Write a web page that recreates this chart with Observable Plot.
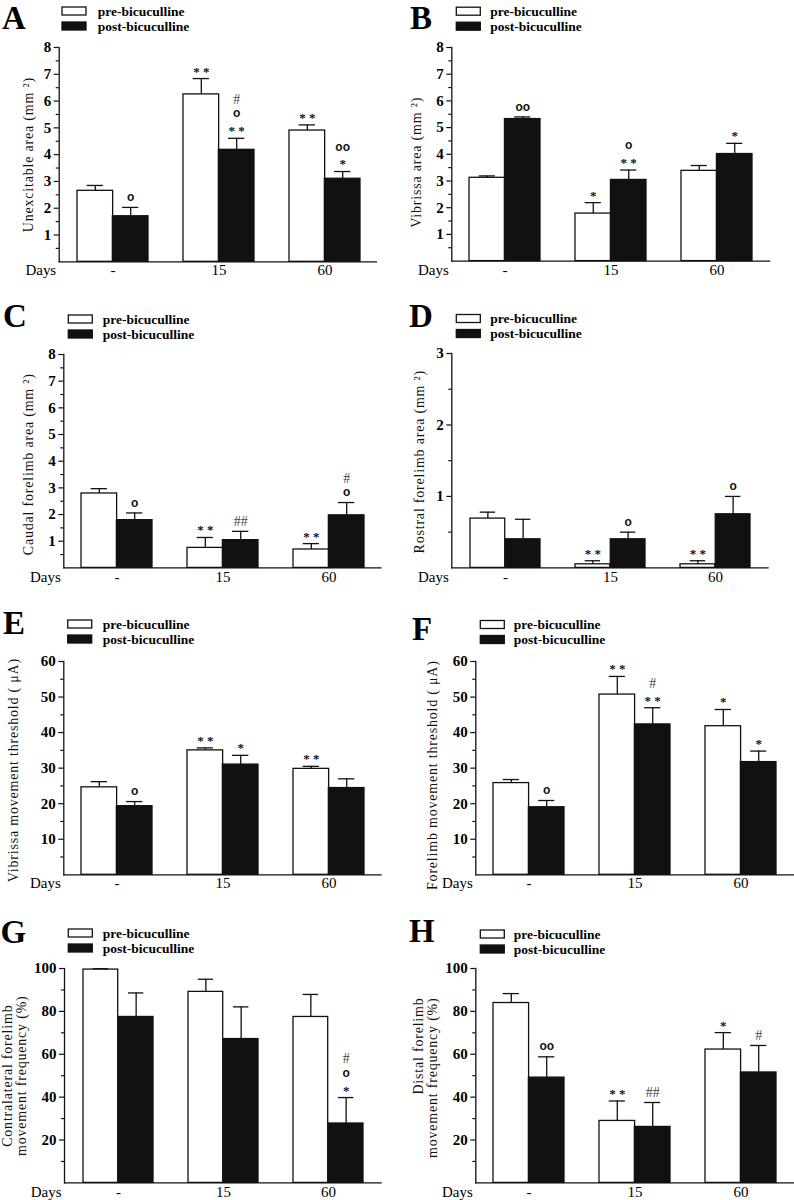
<!DOCTYPE html>
<html><head><meta charset="utf-8">
<script src="https://cdn.jsdelivr.net/npm/d3@7"></script>
<script src="https://cdn.jsdelivr.net/npm/@observablehq/plot@0.6"></script>
<style>
html,body{margin:0;padding:0;background:#fff;}
#page{position:relative;width:794px;height:1200px;overflow:hidden;background:#fff;}
</style></head><body><div id="page"></div>
<script>
// ---------- data ----------
const days = ["-", "15", "60"];
const seriesNames = ["pre-bicuculline", "post-bicuculline"];

// A: Unexcitable area
const aPre = [2.65, 6.25, 4.9];
const aPreErr = [0.2, 0.59, 0.21];
const aPost = [1.7, 4.18, 3.1];
const aPostErr = [0.33, 0.43, 0.27];
const aPreSig = ["", "**", "**"];
const aPostSig = ["o", "**|o|#", "*|oo"];

// B: Vibrissa area
const bPre = [3.12, 1.78, 3.38];
const bPreErr = [0.07, 0.41, 0.2];
const bPost = [5.32, 3.04, 4.01];
const bPostErr = [0.08, 0.37, 0.4];
const bPreSig = ["", "*", ""];
const bPostSig = ["oo", "**|o", "*"];

// C: Caudal forelimb area
const cPre = [2.79, 0.75, 0.69];
const cPreErr = [0.18, 0.39, 0.22];
const cPost = [1.79, 1.04, 1.97];
const cPostErr = [0.27, 0.33, 0.48];
const cPreSig = ["", "**", "**"];
const cPostSig = ["o", "##", "o|#"];

// D: Rostral forelimb area
const dPre = [0.69, 0.05, 0.05];
const dPreErr = [0.09, 0.05, 0.05];
const dPost = [0.40, 0.40, 0.75];
const dPostErr = [0.28, 0.10, 0.25];
const dPreSig = ["", "**", "**"];
const dPostSig = ["", "o", "o"];

// E: Vibrissa movement threshold
const ePre = [24.6, 35.0, 29.8];
const ePreErr = [1.6, 0.7, 0.7];
const ePost = [19.3, 31.0, 24.4];
const ePostErr = [1.3, 2.6, 2.6];
const ePreSig = ["", "**", "**"];
const ePostSig = ["o", "*", ""];

// F: Forelimb movement threshold
const fPre = [25.8, 50.7, 41.8];
const fPreErr = [1.0, 5.1, 4.7];
const fPost = [19.0, 42.3, 31.7];
const fPostErr = [1.9, 4.7, 3.1];
const fPreSig = ["", "**", "*"];
const fPostSig = ["o", "**|#", "*"];

// G: Contralateral forelimb movement frequency
const gPre = [99.5, 89.1, 77.4];
const gPreErr = [0.4, 5.9, 10.5];
const gPost = [77.4, 67.1, 27.7];
const gPostErr = [11.2, 15.0, 12.1];
const gPreSig = ["", "", ""];
const gPostSig = ["", "", "*|o|#"];

// H: Distal forelimb movement frequency
const hPre = [83.9, 28.9, 62.2];
const hPreErr = [4.4, 9.3, 7.9];
const hPost = [49.1, 26.1, 51.5];
const hPostErr = [9.7, 11.4, 12.6];
const hPreSig = ["", "**", "*"];
const hPostSig = ["oo", "##", "#"];

// y-axis ticks
const ticksArea = [1, 2, 3, 4, 5, 6, 7, 8];
const minorArea = [0.5, 1.5, 2.5, 3.5, 4.5, 5.5, 6.5, 7.5];
const ticksRostral = [1, 2, 3];
const minorRostral = [0.5, 1.5, 2.5];
const ticksThreshold = [10, 20, 30, 40, 50, 60];
const minorThreshold = [5, 15, 25, 35, 45, 55];
const ticksFreq = [20, 40, 60, 80, 100];
const minorFreq = [10, 30, 50, 70, 90];

// ---------- layout ----------
const panels = [
  {letter: "A", lx: 2, lb: 28.5, leg: [62, 11, 97.7],
   left: 0, axisX: 58.7, yTop: 46.7, yBase: 261, xEnd: 377, max: 8, major: ticksArea, minor: minorArea,
   label: "Unexcitable area (mm ²)", labOff: 31, labDy: 0, labAnchor: "middle",
   pre: aPre, preErr: aPreErr, post: aPost, postErr: aPostErr, preSig: aPreSig, postSig: aPostSig},
  {letter: "B", lx: 410, lb: 28.5, leg: [456.3, 11.2, 490.3],
   left: 397, axisX: 451.3, yTop: 46.7, yBase: 260.3, xEnd: 770.3, max: 8, major: ticksArea, minor: minorArea,
   label: "Vibrissa area (mm ²)", labOff: 35, labDy: 8, labAnchor: "middle",
   pre: bPre, preErr: bPreErr, post: bPost, postErr: bPostErr, preSig: bPreSig, postSig: bPostSig},
  {letter: "C", lx: 3, lb: 326.5, leg: [68.3, 319, 102.7],
   left: 0, axisX: 63.3, yTop: 354.3, yBase: 567.7, xEnd: 381.7, max: 8, major: ticksArea, minor: minorArea,
   label: "Caudal forelimb area (mm ²)", labOff: 35, labDy: 3, labAnchor: "middle",
   pre: cPre, preErr: cPreErr, post: cPost, postErr: cPostErr, preSig: cPreSig, postSig: cPostSig},
  {letter: "D", lx: 409, lb: 327, leg: [456.3, 318.5, 490.3],
   left: 397, axisX: 451.3, yTop: 353.3, yBase: 567.7, xEnd: 768.7, max: 3, major: ticksRostral, minor: minorRostral,
   label: "Rostral forelimb area (mm ²)", labOff: 32, labDy: 1, labAnchor: "middle",
   pre: dPre, preErr: dPreErr, post: dPost, postErr: dPostErr, preSig: dPreSig, postSig: dPostSig},
  {letter: "E", lx: 3, lb: 634, leg: [67.7, 624, 102.7],
   left: 0, axisX: 63.3, yTop: 661, yBase: 874.3, xEnd: 381.7, max: 60, major: ticksThreshold, minor: minorThreshold,
   label: "Vibrissa movement threshold ( μA)", labOff: 50, labDy: 2, labAnchor: "middle",
   pre: ePre, preErr: ePreErr, post: ePost, postErr: ePostErr, preSig: ePreSig, postSig: ePostSig},
  {letter: "F", lx: 412, lb: 640, leg: [480.3, 624.5, 513.7],
   left: 397, axisX: 475.3, yTop: 661, yBase: 874.3, xEnd: 794, max: 60, major: ticksThreshold, minor: minorThreshold,
   label: "Forelimb movement threshold ( μA)", labOff: 43, labDy: 7, labAnchor: "middle",
   pre: fPre, preErr: fPreErr, post: fPost, postErr: fPostErr, preSig: fPreSig, postSig: fPostSig},
  {letter: "G", lx: 0.5, lb: 943, leg: [68.3, 933, 102.7],
   left: 0, axisX: 64, yTop: 968.3, yBase: 1182.7, xEnd: 381.7, max: 100, major: ticksFreq, minor: minorFreq,
   label: "Contralateral forelimb\nmovement frequency (%)", labOff: 50, labDy: 0, labAnchor: "middle",
   pre: gPre, preErr: gPreErr, post: gPost, postErr: gPostErr, preSig: gPreSig, postSig: gPostSig},
  {letter: "H", lx: 409, lb: 942, leg: [480.3, 934, 513.7],
   left: 397, axisX: 475.3, yTop: 968.3, yBase: 1182.7, xEnd: 794, max: 100, major: ticksFreq, minor: minorFreq,
   label: "Distal forelimb\nmovement frequency (%)", labOff: 50, labDy: 29, labAnchor: "end",
   pre: hPre, preErr: hPreErr, post: hPost, postErr: hPostErr, preSig: hPreSig, postSig: hPostSig}
];

const INK = "#111";
const levelCenter = [9.5, 24, 39];
const symKinds = {
  star: {font: "Liberation Serif", size: 13, weight: "bold", corr: 2.3, fill: "#111"},
  circle: {font: "Liberation Sans", size: 12, weight: "bold", corr: -0.7, fill: "#111"},
  hash: {font: "Liberation Serif", size: 14, weight: "normal", corr: 0, fill: "#444"}
};
function kindOf(s) { return s.startsWith("*") ? "star" : s.startsWith("o") ? "circle" : "hash"; }
function glyph(s) { return s.startsWith("*") ? s.split("").join(" ") : s; }

const page = document.getElementById("page");

function drawPanel(p) {
  const mt = 12, mb = 28;
  const ml = p.axisX - p.left;
  const plotW = p.xEnd - p.axisX;
  const width = Math.ceil(p.xEnd - p.left) + 1;
  const mr = width - ml - plotW;
  const plotH = p.yBase - p.yTop;
  const height = mt + plotH + mb;
  const bw = plotW * 2 / 9;

  const rows = [];
  days.forEach((d, i) => {
    rows.push({day: d, s: 0, v: p.pre[i], e: p.preErr[i], sig: p.preSig[i] ? p.preSig[i].split("|") : []});
    rows.push({day: d, s: 1, v: p.post[i], e: p.postErr[i], sig: p.postSig[i] ? p.postSig[i].split("|") : []});
  });

  const marks = [];
  for (const s of [0, 1]) {
    const data = rows.filter(r => r.s === s);
    const c = s === 0 ? bw / 4 : 3 * bw / 4;
    const off = c - bw / 2;
    marks.push(Plot.barY(data, {x: "day", y: "v", fill: s === 0 ? "white" : INK, stroke: INK, strokeWidth: 1.3,
      insetLeft: s === 0 ? 0 : bw / 2, insetRight: s === 0 ? bw / 2 : 0}));
    marks.push(Plot.ruleX(data, {x: "day", y1: "v", y2: r => r.v + r.e, dx: off, stroke: INK, strokeWidth: 1.3}));
    marks.push(Plot.tickY(data, {x: "day", y: r => r.v + r.e, insetLeft: c - 8, insetRight: bw - c - 8, stroke: INK, strokeWidth: 1.3}));
    for (let L = 0; L < 3; L++) {
      for (const k of Object.keys(symKinds)) {
        const sub = data.filter(r => r.sig[L] && kindOf(r.sig[L]) === k);
        if (!sub.length) continue;
        const st = symKinds[k];
        marks.push(Plot.text(sub, {x: "day", y: r => r.v + r.e, text: r => glyph(r.sig[L]),
          dx: off, dy: -levelCenter[L] + st.corr, lineAnchor: "middle", textAnchor: "middle",
          fontFamily: st.font, fontSize: st.size, fontWeight: st.weight, fill: st.fill}));
      }
    }
  }
  marks.push(Plot.ruleY([0], {stroke: INK, strokeWidth: 1.3}));
  marks.push(Plot.frame({anchor: "left", stroke: INK, strokeWidth: 1.3}));
  marks.push(Plot.axisY({ticks: p.minor, tickSize: 3, tickFormat: () => "", label: null, stroke: INK, strokeWidth: 1.2}));
  marks.push(Plot.axisY({ticks: p.major, tickSize: 5, tickPadding: 3, tickFormat: d => String(d), fontSize: 15, fontWeight: "bold", label: null, stroke: INK, strokeWidth: 1.2, fill: "#000"}));
  marks.push(Plot.axisX({tickSize: 0, tickPadding: 3, fontSize: 15, label: null, fill: "#000"}));
  marks.push(Plot.text(["Days"], {frameAnchor: "bottom-left", textAnchor: "end", lineAnchor: "top", dx: -3, dy: 3, fontSize: 15, fill: "#000"}));
  marks.push(Plot.text([p.label], {frameAnchor: p.labAnchor === "end" ? "top-left" : "left", rotate: -90,
    textAnchor: p.labAnchor, lineAnchor: "middle", dx: -p.labOff, dy: p.labDy, fontSize: 14, lineHeight: 1.0, fill: "#111"}));

  const svg = Plot.plot({
    width, height, marginLeft: ml, marginRight: mr, marginTop: mt, marginBottom: mb,
    style: {fontFamily: "Liberation Serif", background: "none", overflow: "visible", color: INK},
    x: {domain: days, paddingInner: 1 / 3, paddingOuter: 1 / 6, align: 0.5},
    y: {domain: [0, p.max]},
    marks
  });
  svg.style.position = "absolute";
  svg.style.left = p.left + "px";
  svg.style.top = (p.yTop - mt) + "px";
  svg.querySelectorAll("text[transform*='rotate']").forEach(t => t.style.letterSpacing = "0.8px");
  page.appendChild(svg);
}

panels.forEach(drawPanel);

// panel letters and legends (overlay)
const overlay = d3.select(page).append("svg")
  .attr("width", 794).attr("height", 1200)
  .style("position", "absolute").style("left", "0px").style("top", "0px").style("pointer-events", "none");
for (const p of panels) {
  overlay.append("text").attr("x", p.lx).attr("y", p.lb).text(p.letter)
    .attr("font-family", "Liberation Serif").attr("font-weight", "bold").attr("font-size", 33).attr("fill", "#000");
  const [bx, c1, tx] = p.leg;
  [c1, c1 + 15].forEach((cy, i) => {
    overlay.append("rect").attr("x", bx).attr("y", cy - 4).attr("width", 24).attr("height", 8)
      .attr("fill", i === 0 ? "white" : INK).attr("stroke", INK).attr("stroke-width", 1.3);
    overlay.append("text").attr("x", tx).attr("y", cy + 4.5).text(seriesNames[i])
      .attr("font-family", "Liberation Serif").attr("font-weight", "bold").attr("font-size", 13.5).attr("fill", "#000");
  });
}
</script></body></html>
